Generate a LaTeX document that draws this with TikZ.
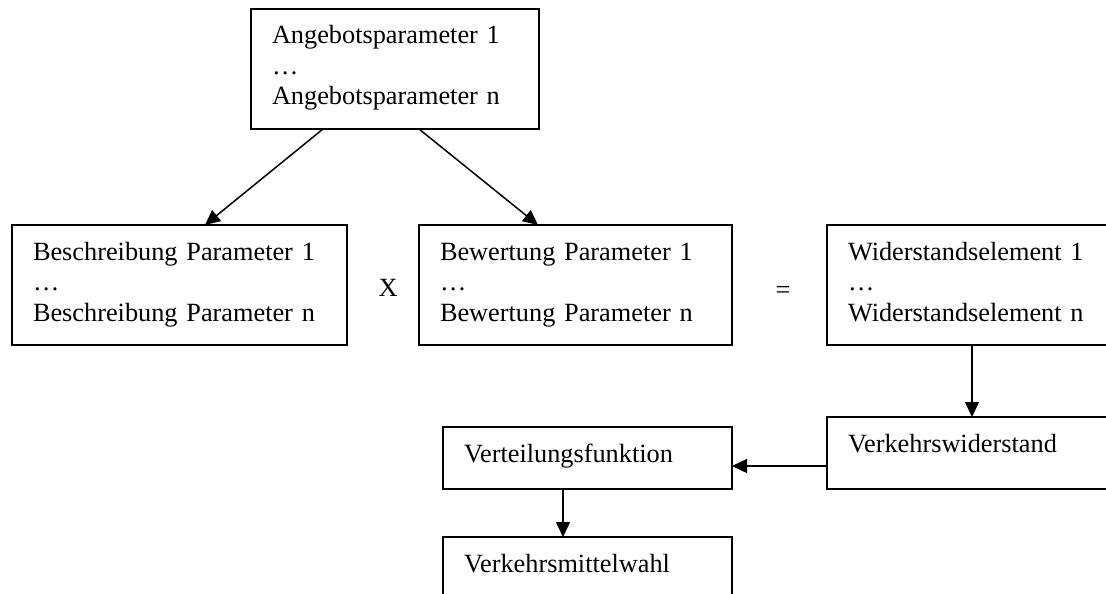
\documentclass[tikz,border=0pt]{standalone}
\usepackage{fontspec}
\setmainfont{Liberation Serif}
\usetikzlibrary{arrows.meta,positioning}
\begin{document}
\begin{tikzpicture}[x=1pt,y=-1pt,
	box/.style={draw,line width=1.5pt,anchor=north west,outer sep=0pt,inner xsep=21pt,inner ysep=17pt,text height=18pt,align=left,font=\fontsize{26.3}{30.5}\selectfont},
	sign/.style={font=\fontsize{26.3}{30.5}\selectfont},
	arr/.style={line width=1.5pt,-{Triangle[length=15pt,width=14pt]}}]
	\clip[use as bounding box] (0,0) rectangle (1106,594);
	\node[box,text width=246pt,text depth=68pt] (angebot) at (251,9) {Angebotsparameter 1\\…\\Angebotsparameter n};
	\node[box,text width=293pt,text depth=68pt] (besch) at (12,225) {Beschreibung Parameter 1\\…\\Beschreibung Parameter n};
	\node[box,text width=271pt,text depth=68pt] (bew) at (419,225) {Bewertung Parameter 1\\…\\Bewertung Parameter n};
	\node[box,text width=258pt,text depth=68pt] (wid) at (827,225) {Widerstandselement 1\\…\\Widerstandselement n};
	\node[box,text width=258pt,text depth=20pt] (verkw) at (827,417) {Verkehrswiderstand};
	\node[box,text width=247pt,text depth=10pt] (vert) at (443,427) {Verteilungsfunktion};
	\node[box,text width=247pt,text depth=20pt] (vmw) at (443,537) {Verkehrsmittelwahl};
	\node[sign] (times) at (388,288) {X};
	\node[sign] (equals) at (783,292) {=};
	\draw[arr] ([xshift=72pt]angebot.south west)--([xshift=193pt]besch.north west);
	\draw[arr] ([xshift=168pt]angebot.south west)--([xshift=119pt]bew.north west);
	\draw[arr] ([xshift=145pt]wid.south west)--([xshift=145pt]verkw.north west);
	\coordinate (wout) at ([yshift=-13pt]verkw.west);
	\draw[arr] (wout)--(wout -| vert.east);
	\draw[arr] ([xshift=120pt]vert.south west)--([xshift=120pt]vmw.north west);
\end{tikzpicture}
\end{document}
